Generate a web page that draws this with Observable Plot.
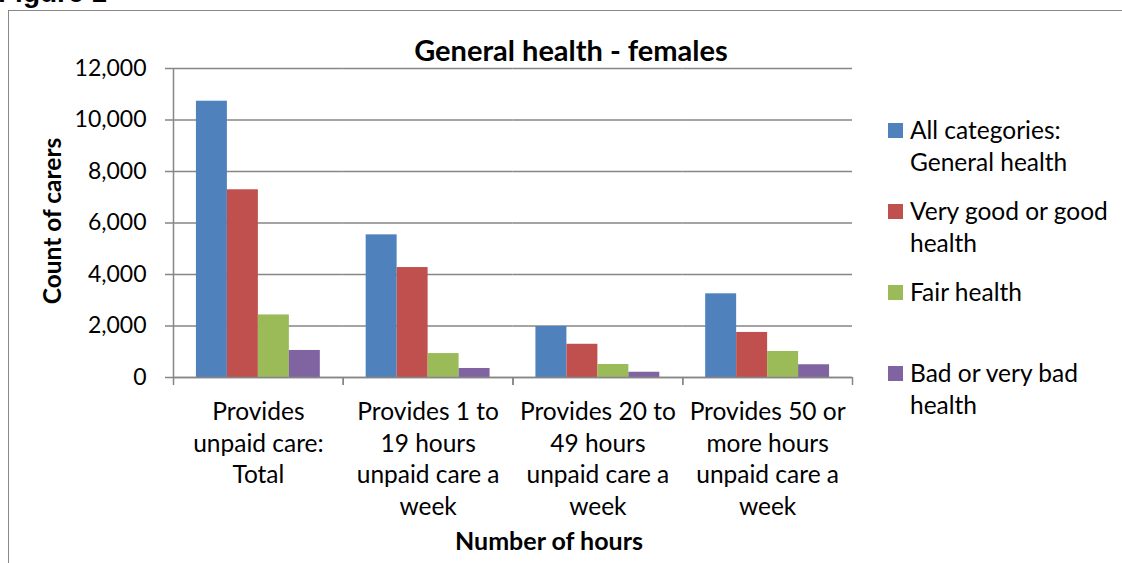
<!DOCTYPE html>
<html>
<head>
<meta charset="utf-8">
<script src="https://cdn.jsdelivr.net/npm/d3@7"></script>
<script src="https://cdn.jsdelivr.net/npm/@observablehq/plot@0.6"></script>
<style>
  html, body { margin: 0; padding: 0; background: #fff; }
  #wrap { position: relative; width: 1122px; height: 563px; overflow: hidden; font-family: Lato, "Open Sans", sans-serif; color: #000; }
  #wrap svg { position: absolute; left: 0; top: 0; }
  .abs { position: absolute; white-space: nowrap; }
  #fig { left: -2px; top: -23px; font: bold 28px "Liberation Sans", Arial, sans-serif; line-height: 32px; }
  #border { position: absolute; left: 8px; top: 10px; width: 1200px; height: 700px; border-left: 1.5px solid #888; border-top: 1.5px solid #888; }
  #title { left: 321px; width: 500px; top: 33px; text-align: center; font-weight: bold; font-size: 29px; line-height: 34px; }
  #ylab { left: 51px; top: 221px; transform: translate(-50%, -50%) rotate(-90deg); font-weight: bold; font-size: 24.5px; }
  #xlab { left: 549px; top: 540px; transform: translate(-50%, -50%); font-weight: bold; font-size: 25px; }
  #legend { position: absolute; left: 888px; top: 114px; width: 234px; }
  .item { position: relative; height: 81px; }
  .sw { position: absolute; left: 0; top: 9px; width: 15px; height: 15px; }
  .lt { position: absolute; left: 22px; top: 0; width: 212px; font-size: 24.5px; line-height: 32px; white-space: normal; }
</style>
</head>
<body>
<div id="wrap"></div>
<script>
const categories = [
  "Provides unpaid care: Total",
  "Provides 1 to 19 hours unpaid care a week",
  "Provides 20 to 49 hours unpaid care a week",
  "Provides 50 or more hours unpaid care a week"
];
const tickLabels = [
  "Provides\nunpaid care:\nTotal",
  "Provides 1 to\n19 hours\nunpaid care a\nweek",
  "Provides 20 to\n49 hours\nunpaid care a\nweek",
  "Provides 50 or\nmore hours\nunpaid care a\nweek"
];
const series = [
  "All categories: General health",
  "Very good or good health",
  "Fair health",
  "Bad or very bad health"
];
const allCategories = [10730, 5540, 1980, 3250];
const veryGoodOrGood = [7290, 4270, 1290, 1750];
const fairHealth = [2430, 930, 505, 1010];
const badOrVeryBad = [1050, 350, 205, 495];
const seriesColors = ["#4F81BD", "#C0504D", "#9BBB59", "#8064A2"];
const yTicks = [0, 2000, 4000, 6000, 8000, 10000, 12000];
const chartTitle = "General health - females";
const yLabel = "Count of carers";
const xLabel = "Number of hours";

const valuesBySeries = [allCategories, veryGoodOrGood, fairHealth, badOrVeryBad];
const data = [];
categories.forEach((c, i) => series.forEach((s, j) => data.push({category: c, series: s, value: valuesBySeries[j][i]})));

const W = 1122, H = 563, ML = 173, MR = 270, MT = 68, MB = 186;
const outerPad = 0.74;
const facetStep = (W - ML - MR) / categories.length;
const xStep = facetStep / (series.length + 2 * outerPad);
const gray = "#868686";

const plot = Plot.plot({
  width: W, height: H,
  marginLeft: ML, marginRight: MR, marginTop: MT, marginBottom: MB,
  style: {fontFamily: "Lato, 'Open Sans', sans-serif", fontSize: "23px", color: "#000", background: "transparent", overflow: "visible"},
  fx: {domain: categories, padding: 0, round: false, label: null},
  x: {domain: series, paddingInner: 0, paddingOuter: outerPad, round: false, axis: null},
  y: {domain: [0, 12000], label: null},
  color: {domain: series, range: seriesColors},
  marks: [
    Plot.gridY(yTicks, {stroke: gray, strokeOpacity: 1, strokeWidth: 1.5}),
    Plot.barY(data, {fx: "category", x: "series", y: "value", fill: "series"}),
    Plot.ruleY([0], {stroke: gray, strokeWidth: 1.5}),
    Plot.ruleX([categories[0]], {fx: d => d, x: () => series[0], y1: 0, y2: 12000, dx: -xStep * (outerPad + 0.5), stroke: gray, strokeWidth: 1.5}),
    Plot.axisY(yTicks, {tickFormat: d3.format(","), tickSize: 8, tickPadding: 19, stroke: gray, strokeWidth: 1.5, fontSize: 23, label: null}),
    Plot.axisFx({anchor: "bottom", tickSize: 0, tickPadding: 20, tickFormat: c => tickLabels[categories.indexOf(c)], lineHeight: 1.29, fontSize: 24.5, label: null}),
    Plot.axisFx({anchor: "bottom", tickSize: 8, tickFormat: () => "", dx: -facetStep / 2, stroke: gray, strokeWidth: 1.5, label: null}),
    Plot.axisFx([categories[categories.length - 1]], {anchor: "bottom", tickSize: 8, tickFormat: () => "", dx: facetStep / 2, stroke: gray, strokeWidth: 1.5, label: null})
  ]
});

const wrap = document.getElementById("wrap");
wrap.innerHTML = `<div id="border"></div><div class="abs" id="fig">Figure 1</div>`;
wrap.appendChild(plot);
const add = (id, text) => { const d = document.createElement("div"); d.className = "abs"; d.id = id; d.textContent = text; wrap.appendChild(d); };
add("title", chartTitle);
add("ylab", yLabel);
add("xlab", xLabel);
const legend = document.createElement("div");
legend.id = "legend";
series.forEach((s, j) => {
  const item = document.createElement("div");
  item.className = "item";
  item.innerHTML = `<div class="sw" style="background:${seriesColors[j]}"></div><div class="lt"></div>`;
  item.querySelector(".lt").textContent = s;
  legend.appendChild(item);
});
wrap.appendChild(legend);
</script>
</body>
</html>
